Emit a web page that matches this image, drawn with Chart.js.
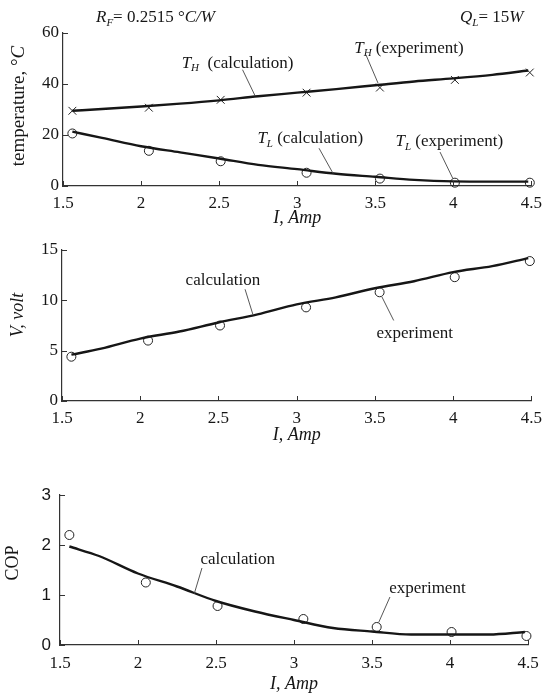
<!DOCTYPE html>
<html>
<head>
<meta charset="utf-8">
<script src="https://cdn.jsdelivr.net/npm/chart.js@4/dist/chart.umd.min.js"></script>
<style>
body { margin: 0; background: #fff; }
.panel { position: absolute; left: 0; }
</style>
</head>
<body>
<canvas id="temp-chart" class="panel" width="549" height="232" style="top:0px"></canvas>
<canvas id="volt-chart" class="panel" width="549" height="230" style="top:232px"></canvas>
<canvas id="cop-chart" class="panel" width="549" height="233" style="top:462px"></canvas>
<script>
// measured points (current, A)
var current_exp = [1.56, 2.05, 2.51, 3.06, 3.53, 4.01, 4.49];
var th_exp = [29.5, 30.7, 33.8, 36.6, 38.6, 41.6, 44.5];
var tl_exp = [20.6, 13.8, 9.7, 5.2, 2.9, 1.3, 1.3];
var volt_exp = [4.4, 6.0, 7.5, 9.3, 10.8, 12.3, 13.9];
var cop_exp = [2.2, 1.25, 0.78, 0.52, 0.36, 0.26, 0.18];

// model curves
var current_calc = [1.56, 1.75, 2.0, 2.25, 2.5, 2.75, 3.0, 3.25, 3.5, 3.75, 4.0, 4.25, 4.48];
var th_calc = [29.5, 30.2, 31.2, 32.3, 33.6, 35.2, 36.6, 38.0, 39.5, 41.0, 42.2, 43.6, 45.3];
var tl_calc = [21.3, 18.9, 15.6, 13.2, 10.8, 8.3, 6.6, 4.8, 3.6, 2.4, 1.8, 1.7, 1.7];
var volt_calc = [4.6, 5.2, 6.2, 6.9, 7.8, 8.6, 9.6, 10.3, 11.2, 11.9, 12.8, 13.4, 14.2];
var cop_calc = [1.97, 1.78, 1.43, 1.17, 0.88, 0.67, 0.5, 0.34, 0.27, 0.21, 0.21, 0.21, 0.26];

var x_ticks = { min: 1.5, max: 4.5, step: 0.5 };

var serif = "'Liberation Serif', 'Times New Roman', serif";
var sans = "'Liberation Sans', Arial, sans-serif";
var ink = '#161616';

function pairs(xs, ys) {
	return xs.map(function(x, i) { return { x: x, y: ys[i] }; });
}

function calc_set(ys) {
	return {
		data: pairs(current_calc, ys),
		showLine: true,
		pointRadius: 0,
		borderColor: ink,
		borderWidth: 2.4,
		cubicInterpolationMode: 'monotone',
		clip: false
	};
}

function exp_set(ys, style) {
	return {
		data: pairs(current_exp, ys),
		showLine: false,
		pointStyle: style,
		pointRadius: style == 'circle' ? 4.5 : 5.5,
		borderColor: '#222',
		borderWidth: 1,
		backgroundColor: 'rgba(0,0,0,0)',
		clip: false
	};
}

// text made of pieces: n = normal, i = italic, s = italic subscript
function parts_width(ctx, parts, size) {
	var w = 0;
	parts.forEach(function(p) {
		var fs = p[1] == 's' ? Math.round(size * 0.65) : size;
		ctx.font = (p[1] == 'n' ? '' : 'italic ') + fs + 'px ' + serif;
		w += ctx.measureText(p[0]).width;
	});
	return w;
}

function draw_parts(ctx, parts, x, y, size) {
	ctx.textAlign = 'left';
	ctx.textBaseline = 'alphabetic';
	parts.forEach(function(p) {
		var fs = p[1] == 's' ? Math.round(size * 0.65) : size;
		ctx.font = (p[1] == 'n' ? '' : 'italic ') + fs + 'px ' + serif;
		ctx.fillText(p[0], x, p[1] == 's' ? y + size * 0.22 : y);
		x += ctx.measureText(p[0]).width;
	});
}

function decor_plugin(cfg) {
	return {
		id: 'decor',
		afterDraw: function(chart) {
			var ctx = chart.ctx, xs = chart.scales.x, ys = chart.scales.y, area = chart.chartArea;
			ctx.save();

			// tick marks pointing into the plot
			ctx.strokeStyle = '#333';
			ctx.lineWidth = 1;
			ctx.beginPath();
			xs.ticks.forEach(function(t) {
				var px = Math.round(xs.getPixelForValue(t.value)) + 0.5;
				ctx.moveTo(px, area.bottom);
				ctx.lineTo(px, area.bottom - 5);
			});
			ys.ticks.forEach(function(t) {
				var py = Math.round(ys.getPixelForValue(t.value)) + 0.5;
				ctx.moveTo(area.left, py);
				ctx.lineTo(area.left + 5, py);
			});
			ctx.stroke();

			// labels with leader lines
			cfg.notes.forEach(function(n) {
				var x1 = xs.getPixelForValue(n.from[0]), y1 = ys.getPixelForValue(n.from[1]);
				var x2 = xs.getPixelForValue(n.to[0]), y2 = ys.getPixelForValue(n.to[1]);
				if (n.gap) {
					var d = Math.hypot(x2 - x1, y2 - y1);
					x2 -= (x2 - x1) * n.gap / d;
					y2 -= (y2 - y1) * n.gap / d;
				}
				ctx.strokeStyle = '#444';
				ctx.lineWidth = 0.9;
				ctx.beginPath();
				ctx.moveTo(x1, y1);
				ctx.lineTo(x2, y2);
				ctx.stroke();
				ctx.fillStyle = ink;
				draw_parts(ctx, n.parts, xs.getPixelForValue(n.at[0]), ys.getPixelForValue(n.at[1]) + 6, 17);
			});

			(cfg.header || []).forEach(function(h) {
				ctx.fillStyle = ink;
				draw_parts(ctx, h.parts, h.x, h.y, 17);
			});

			// rotated y axis title
			var t = cfg.ytitle;
			ctx.fillStyle = ink;
			ctx.translate(t.x, t.y);
			ctx.rotate(-Math.PI / 2);
			var w = parts_width(ctx, t.parts, t.size);
			draw_parts(ctx, t.parts, -w / 2, t.size * 0.33, t.size);
			ctx.restore();
		}
	};
}

function make_chart(id, datasets, y, box, cfg) {
	return new Chart(document.getElementById(id), {
		type: 'scatter',
		data: { datasets: datasets },
		options: {
			responsive: false,
			animation: false,
			devicePixelRatio: 1,
			layout: { padding: box.pad },
			plugins: { legend: { display: false }, tooltip: { enabled: false } },
			scales: {
				x: {
					type: 'linear',
					min: x_ticks.min,
					max: x_ticks.max,
					ticks: {
						stepSize: x_ticks.step, color: ink, padding: box.xpad,
						font: { family: serif, size: 17 },
						callback: function(v) { return String(Math.round(v * 10) / 10); }
					},
					grid: { display: false, drawTicks: false },
					border: { display: true, color: '#333', width: 1.2 },
					title: { display: true, text: 'I, Amp', color: ink, padding: 0, font: { family: serif, size: 18, style: 'italic' } },
					afterFit: function(s) { s.height = box.xh; }
				},
				y: {
					min: y.min,
					max: y.max,
					ticks: { stepSize: y.step, color: ink, padding: box.ypad, font: { family: y.font || serif, size: 17 } },
					grid: { display: false, drawTicks: false },
					border: { display: true, color: '#333', width: 1.2 },
					afterFit: function(s) { s.width = box.yw; }
				}
			}
		},
		plugins: [decor_plugin(cfg)]
	});
}

// temperature
make_chart('temp-chart',
	[calc_set(th_calc), calc_set(tl_calc), exp_set(th_exp, 'crossRot'), exp_set(tl_exp, 'circle')],
	{ min: 0, max: 60, step: 20 },
	{ pad: { top: 33, bottom: 3, left: 0, right: 11 }, xh: 43, yw: 63, xpad: 7, ypad: 4 },
	{
		notes: [
			{ parts: [['T', 'i'], ['H', 's'], ['  (calculation)', 'n']], at: [2.26, 48.8], from: [2.65, 45.6], to: [2.73, 35.4] },
			{ parts: [['T', 'i'], ['H', 's'], [' (experiment)', 'n']], at: [3.365, 54.7], from: [3.44, 51.5], to: [current_exp[4], th_exp[4]], gap: 5 },
			{ parts: [['T', 'i'], ['L', 's'], [' (calculation)', 'n']], at: [2.745, 19.3], from: [3.14, 14.8], to: [3.23, 4.9] },
			{ parts: [['T', 'i'], ['L', 's'], [' (experiment)', 'n']], at: [3.63, 18.0], from: [3.915, 13.3], to: [current_exp[5], tl_exp[5]], gap: 5 }
		],
		header: [
			{ parts: [['R', 'i'], ['F', 's'], ['= 0.2515 °', 'n'], ['C/W', 'i']], x: 96, y: 22 },
			{ parts: [['Q', 'i'], ['L', 's'], ['= 15', 'n'], ['W', 'i']], x: 460, y: 22 }
		],
		ytitle: { parts: [['temperature, °', 'n'], ['C', 'i']], x: 18, y: 106, size: 19 }
	});

// voltage
make_chart('volt-chart',
	[calc_set(volt_calc), exp_set(volt_exp, 'circle')],
	{ min: 0, max: 15, step: 5 },
	{ pad: { top: 18, bottom: 16, left: 0, right: 13 }, xh: 45, yw: 62, xpad: 7, ypad: 4 },
	{
		notes: [
			{ parts: [['calculation', 'n']], at: [2.29, 12.1], from: [2.67, 11.1], to: [2.72, 8.6] },
			{ parts: [['experiment', 'n']], at: [3.51, 6.9], from: [3.62, 8.0], to: [current_exp[4], volt_exp[4]], gap: 5 }
		],
		ytitle: { parts: [['V, volt', 'i']], x: 17, y: 83, size: 18 }
	});

// coefficient of performance
make_chart('cop-chart',
	[calc_set(cop_calc), exp_set(cop_exp, 'circle')],
	{ min: 0, max: 3, step: 1, font: sans },
	{ pad: { top: 33, bottom: 0, left: 0, right: 21 }, xh: 50, yw: 60, xpad: 8, ypad: 9 },
	{
		notes: [
			{ parts: [['calculation', 'n']], at: [2.4, 1.74], from: [2.41, 1.54], to: [2.36, 1.02] },
			{ parts: [['experiment', 'n']], at: [3.61, 1.16], from: [3.615, 0.96], to: [current_exp[4], cop_exp[4]], gap: 5 }
		],
		ytitle: { parts: [['COP', 'n']], x: 12, y: 101, size: 18 }
	});
</script>
</body>
</html>
